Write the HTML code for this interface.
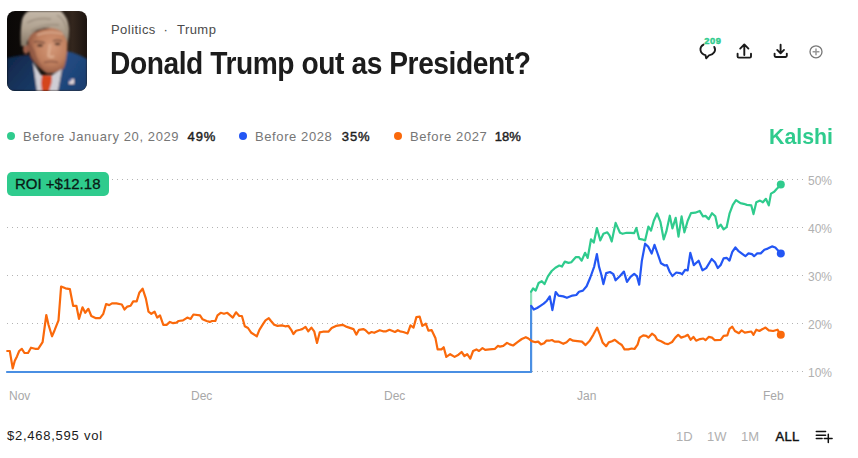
<!DOCTYPE html>
<html><head><meta charset="utf-8">
<style>
html,body{margin:0;padding:0;background:#fff;}
body{width:858px;height:458px;position:relative;overflow:hidden;font-family:"Liberation Sans",sans-serif;}
.abs{position:absolute;white-space:nowrap;}
.crumb{left:111px;top:21.5px;font-size:13px;color:#4a4a4a;letter-spacing:0.45px;}
.title{left:109.5px;top:45px;font-size:31.5px;font-weight:bold;color:#1c1c1c;letter-spacing:-0.5px;transform-origin:0 0;transform:scaleX(0.895);}
.leg{top:129px;font-size:13px;color:#767676;letter-spacing:0.6px;}
.leg b{font-weight:normal;color:#1f1f1f;letter-spacing:0.8px;-webkit-text-stroke:0.45px #1f1f1f;}
.dot{position:absolute;width:8px;height:8px;border-radius:50%;}
.kalshi{left:768.5px;top:124px;font-size:22px;font-weight:bold;color:#2fcb8d;transform-origin:0 0;transform:scaleX(0.97);}
.roi{left:7px;top:172px;width:102px;height:24px;border-radius:5px;background:#2fcb8d;}
.roit{left:15px;top:175px;font-size:15px;color:#0a1a16;-webkit-text-stroke:0.3px #0a1a16;}
.ylab{left:808px;font-size:12px;color:#b0b0b0;letter-spacing:0px;}
.xlab{top:389px;font-size:12px;color:#a8a8a8;}
.vol{left:7px;top:428px;font-size:13px;color:#1a1a1a;letter-spacing:0.75px;}
.rng{top:429px;font-size:13px;color:#b0b0b0;}
</style></head><body>
<svg class="abs" style="left:7px;top:11px" width="80" height="80" viewBox="0 0 80 80">
<defs><clipPath id="rc"><rect width="80" height="80" rx="8"/></clipPath>
<linearGradient id="bg" x1="0" y1="0" x2="1" y2="0"><stop offset="0" stop-color="#0a0807"/><stop offset="0.5" stop-color="#120e0b"/><stop offset="0.82" stop-color="#33261d"/><stop offset="1" stop-color="#1c1410"/></linearGradient>
<radialGradient id="skin" cx="0.6" cy="0.42" r="0.62"><stop offset="0" stop-color="#d49878"/><stop offset="0.6" stop-color="#c0805f"/><stop offset="1" stop-color="#905640"/></radialGradient>
<linearGradient id="hair" x1="0" y1="0" x2="0" y2="1"><stop offset="0" stop-color="#c4b8a9"/><stop offset="0.5" stop-color="#b0a290"/><stop offset="1" stop-color="#857767"/></linearGradient>
<linearGradient id="suitL" x1="0" y1="0" x2="1" y2="1"><stop offset="0" stop-color="#0f2649"/><stop offset="1" stop-color="#1b3c69"/></linearGradient>
<linearGradient id="suitR" x1="0" y1="0" x2="1" y2="1"><stop offset="0" stop-color="#25508a"/><stop offset="1" stop-color="#1a3d6e"/></linearGradient>
<filter id="bl" x="-10%" y="-10%" width="120%" height="120%"><feGaussianBlur stdDeviation="0.9"/></filter></defs>
<g clip-path="url(#rc)">
<rect width="80" height="80" fill="url(#bg)"/>
<g filter="url(#bl)">
<path d="M0 47 Q12 44 22 44 L27 52 L31 80 L0 80 Z" fill="url(#suitL)"/>
<path d="M59 40 Q70 42 80 48 L80 80 L51 80 L55 59 Z" fill="url(#suitR)"/>
<path d="M21 24 Q20 40 25 48 Q31 57 40 62.5 Q50 63 57 57 Q60 48 60.5 32 Q60 20 52 17 Q38 15 21 24 Z" fill="url(#skin)"/>
<path d="M26 51 L34 64 L45 64 L55 58 L51 80 L30 80 Z" fill="#cfcdd4"/>
<path d="M35 64 L45 64.5 L44.5 72 L42 80 L35 80 L34 72 Z" fill="#d4441c"/>
<ellipse cx="19" cy="38" rx="3" ry="5" fill="#9c5e4a"/>
<path d="M22 30 Q22 44 27 50 Q32 56 38 60 Q30 50 28 40 Z" fill="#8a5440" opacity="0.7"/>
<path d="M30 24 Q42 19 56 23" stroke="#d9ab90" stroke-width="2" fill="none" opacity="0.8"/>
<path d="M14 35 Q13 20 15 9 Q17 2 22 0 L54 0 Q61 6 62 18 Q62 26 60.5 32 Q58 25 55 21 Q47 16 38 17 Q28 18 23 25 Q20 29 19.5 35 Z" fill="url(#hair)"/>
<path d="M27 31 Q32 29.5 38 32 M46 30 Q50 28.5 55 30" stroke="#7a5040" stroke-width="1.5" fill="none"/>
<path d="M20 12 Q30 6 44 8 M24 20 Q36 12 52 14 M50 4 Q58 8 60 20" stroke="#8c7e6e" stroke-width="1.3" fill="none" opacity="0.7"/>
<ellipse cx="33" cy="34.5" rx="3" ry="1.2" fill="#4a3028"/>
<ellipse cx="50.5" cy="33" rx="3" ry="1.2" fill="#4a3028"/>
<path d="M43 33 L41.5 45 Q44 47 47 45" stroke="#dcaa8c" stroke-width="2.5" fill="none"/>
<path d="M37 51.5 Q44 49.5 51 51.5" stroke="#8a5542" stroke-width="1.5" fill="none"/>
<rect x="62" y="68" width="5" height="5" fill="#e8dcdc"/>
<rect x="62" y="68" width="2.5" height="2.5" fill="#5060a0"/>
</g>
</g></svg>
<div class="abs crumb">Politics</div><div class="abs crumb" style="left:163.5px">·</div><div class="abs crumb" style="left:177px">Trump</div>
<div class="abs title">Donald Trump out as President?</div>

<svg class="abs" style="left:690px;top:30px" width="140" height="35" viewBox="690 30 140 35">
<path d="M703.5 44.6 A7.25 6 0 0 0 705.5 55.2 L706.2 58.3 L709 55.4 A7.25 6 0 0 0 714.3 46.9" fill="none" stroke="#1a1a1a" stroke-width="1.9" stroke-linejoin="round" stroke-linecap="round"/>
<text x="704.2" y="43.9" font-size="9.3" font-weight="bold" fill="#2fcb8d" stroke="#2fcb8d" stroke-width="0.45" font-family="Liberation Sans" letter-spacing="0.6">209</text>
<path d="M737.6 53.8 V56.4 Q737.6 57.6 738.8 57.6 H749.8 Q751 57.6 751 56.4 V53.8 M744.3 55 V44.6 M740.2 48.6 L744.3 44.4 L748.4 48.6" fill="none" stroke="#1a1a1a" stroke-width="1.9" stroke-linejoin="round" stroke-linecap="round"/>
<path d="M774.6 53.6 V55.8 Q774.6 57 775.8 57 H785.6 Q786.8 57 786.8 55.8 V53.6 M780.6 44.8 V53 M777.2 49.9 L780.6 53.3 L784 49.9" fill="none" stroke="#1a1a1a" stroke-width="1.9" stroke-linejoin="round" stroke-linecap="round"/>
<circle cx="816" cy="51.8" r="6" fill="none" stroke="#777" stroke-width="1.3"/>
<path d="M816 48.4 V55.2 M812.6 51.8 H819.4" stroke="#999" stroke-width="1.5"/>
</svg>

<div class="dot" style="left:7px;top:132px;background:#2fcb8d"></div>
<div class="abs leg" style="left:23px">Before January 20, 2029&nbsp;&nbsp;<b>49%</b></div>
<div class="dot" style="left:239px;top:132px;background:#2356f4"></div>
<div class="abs leg" style="left:255px">Before 2028&nbsp;&nbsp;<b style="margin-left:1px">35%</b></div>
<div class="dot" style="left:394px;top:132px;background:#fa690b"></div>
<div class="abs leg" style="left:410px">Before 2027&nbsp;&nbsp;<b style="letter-spacing:0px;margin-left:-1px">18%</b></div>
<div class="abs kalshi">Kalshi</div>

<svg class="abs" style="left:0;top:170px" width="858" height="220" viewBox="0 170 858 220">
<g stroke="#b4b4b4" stroke-width="1" stroke-dasharray="1 4">
<line x1="7" y1="179.5" x2="803" y2="179.5"/>
<line x1="7" y1="227.5" x2="803" y2="227.5"/>
<line x1="7" y1="275.5" x2="803" y2="275.5"/>
<line x1="7" y1="323.5" x2="803" y2="323.5"/>
<line x1="7" y1="371.5" x2="803" y2="371.5"/>
</g>
<g fill="none" stroke-width="2.2" stroke-linejoin="round" stroke-linecap="round">
<polyline points="7,372 531.1,372 531.1,305.8" stroke="#4a8fe3"/>
<polyline points="531.1,305.8 531.1,291.7" stroke="#8ddfba"/>
<polyline points="7.2,351 9.8,351 12.7,368.4 14.8,360.8 17,356.4 19.2,351 21.8,348.8 24.5,353 28,353 31,347.7 35,348.8 38.2,348.8 42.6,342.2 46.3,315 48.5,324.8 52,336.3 54.6,330.2 58.5,320.4 61.1,286.5 65.5,288.3 69.9,289.2 73.1,305.8 76.4,305.8 79,318.9 82.5,307.3 85.2,312.8 88.4,308.8 91.3,316 96,318.2 100,318.2 103.3,313.8 106.1,304 109.2,305.1 112,303.4 116.4,303.4 121.8,304.5 124.5,309.5 127.3,306.6 130.6,305.8 133.2,301.4 136.7,301.4 139.3,292.7 142.6,288.7 145.9,298.6 148.5,311.7 151.3,313.8 154.6,311.7 157.2,317.6 160,315.4 163.3,324.8 166.6,324.8 169.9,321.9 173.1,323.2 176.4,322.6 178.6,321 183,320.4 187.3,317.6 190.6,318.9 193.4,314.5 200,315.4 202.6,319.3 206.6,321 209.8,321.9 212,321 215.3,321 217.5,315.4 220.7,312.8 224,313.8 227.3,312.8 232.8,317.6 236,312.3 239.3,316 241.9,316 244.8,326.3 248,328 251.3,332.8 256.8,336.3 259.4,329.8 263.3,323.7 265.5,320.4 268.8,318.2 271,321 274.2,324.8 277.5,325.9 281.9,325.4 285.2,326.3 288.4,325.9 291.7,330.7 293.4,334.1 296.1,330.7 300,329.8 302.2,329.1 305.5,326.9 308.3,331.3 311.4,327.6 314.2,331.3 317,342.9 319.7,332.4 322.9,331.7 328.4,331.7 331.7,328 336,325.9 342.6,324.8 346.9,326.9 353.5,329.1 356.3,334.6 359,329.8 363.3,329.1 365.5,330.2 368.8,333.5 371.6,332 374.2,332.8 379.7,330.2 383,331.3 386.2,331.3 389.5,329.8 395,332 397.8,330.2 400,331.3 403.3,332 407.6,333.5 410.5,325.4 413.5,327.6 416.4,317.1 419.7,316.7 422.3,325.9 425.8,323.7 428.4,330.7 431.7,330.2 435.4,337.9 437.6,349.4 441.5,349.4 443.7,347.2 446.3,356.9 450.2,354.2 454.6,356.9 458.5,354.7 461.6,352 464.4,356 467.2,354.2 470.3,358.6 473.1,351 476.4,349.4 479,351 482.5,348.1 485.2,349.9 489.5,349.4 495,348.8 497.8,345.9 500,346.6 503.3,345.9 507,342.9 509.8,344.4 513.1,345.5 517.5,342.2 521.8,339 525.8,337.2 528.4,338.5 531.7,341.1 535.4,342.2 538.2,341.6 541,344.4 544.1,343.3 546.3,340.7 549.1,340.7 552,340 554.6,341.6 558.5,341.6 563.3,343.8 566.6,342.2 569.9,339 573.1,340.7 577.5,341.1 581.9,341.6 585.6,345.1 589.5,341.1 593.4,334.6 597.2,327.6 600,334.8 602.6,342.4 606.1,346.3 608.7,342.4 612,341.3 614.8,339.8 618.6,342.8 621.8,345 624.5,349.4 628.4,349.4 631.7,348.5 634.5,349 637.6,344.6 639.7,337.6 643.2,335.4 646.3,335.9 648.5,337.6 652,333.7 655,335.9 657.2,339.8 661.1,341.3 665.1,343.5 668.1,344.1 672.1,342 675.3,337.6 678.2,334.8 681.2,337.6 685.2,336.3 687.8,334.8 690.6,339.8 693.4,336.9 696.1,340.7 700,339.1 703.3,338.5 705.5,340.2 708.7,336.9 712,337.6 714.8,340.2 720.7,339.8 723.6,335.9 727.3,335.4 729.5,328.9 732.3,326.7 734.9,331 738.9,333.2 741.5,330.4 744.8,332.6 751.3,331.5 753.5,334.8 756.3,329.7 759.4,331 762.2,329.3 765.5,327.6 768.8,330.4 773.1,331 777.5,329.7 780.8,334.8" stroke="#fa690b"/>
<polyline points="531.1,305.8 533.8,309.5 537.1,308 540.4,305.8 543.7,303.6 546.9,300.7 549.8,296.4 552.4,310.1 555.7,292 558.5,295.7 563.3,296.4 566.9,297.8 572.4,295.6 576.3,295 579,291.7 582.9,290.6 586.6,286.2 590.3,277.5 594.2,266.6 596.9,254.1 599,266.6 601.2,274.2 603.4,284.1 606.2,273.1 610,272 613.4,274.2 615.6,280.3 620,276 623.9,271.6 627,281.9 630.5,276.9 634.2,273.8 637,276.4 639.2,284.7 641.8,261.1 645.1,243.7 648.4,246.9 651.7,253.5 654.5,244.8 657.6,253.5 661,263.3 664.8,265.5 666.9,265.1 669.8,272 672.4,276 676.3,272.5 680,273.1 682.2,274.2 685.1,269.9 687.7,270.3 690.3,252.8 693.8,265.1 698.6,260.7 702.5,270.3 706.2,268.1 711.7,259 715,262.2 717.8,268.1 720.7,265 723.6,258.4 726.6,257.8 729.5,260.6 732.3,251.9 735.4,247.5 738.2,250.8 742.6,254.1 745.4,256.2 748.5,253.4 752,254.1 754.1,256.2 757.2,253.4 760.7,253.4 764.4,249.7 767.7,248.6 772,246.4 775.3,247.5 780.8,253.4" stroke="#2356f4"/>
<polyline points="531.1,291.7 533.1,288.4 535.7,290.6 538.6,283 541.8,281.2 544.5,284.1 547.9,276.4 551.7,271 555.4,267.7 559.3,265.5 561.9,266.6 564.8,261.6 568.5,262.9 571.3,262.2 575.7,257.2 579,257.2 581.6,260.7 585.1,252.8 587.7,257.9 591,239.3 593.8,242.6 596.9,228 600.3,240.4 603.4,233.8 607.3,232.3 609.5,235.4 611.7,241.5 615.6,222.9 620,232.8 622.6,233.8 626.6,232.8 630.9,232.8 634.2,233.2 636.4,227.9 639.2,238.9 641.8,239.3 645.1,240.4 648.4,226.6 651,230.6 653.8,220.7 657.1,213.5 660.4,221.8 663.7,239.3 666.3,231.7 669.8,215.7 672.4,228.4 675.7,217.9 678.5,236.7 681.6,216.4 684.4,232.3 687.7,220.7 691,213.1 695.3,212.7 699.7,210.9 703,216.4 705.5,215.9 708.7,219.1 712,213.2 715.3,216.3 717.9,227.9 720.7,224.6 723.6,229.4 726.6,227.2 729.5,213.7 732.8,204.9 736,200.1 740.4,203.2 743.7,203.8 746.9,204.9 751.3,205.4 753.5,214.1 756.3,202.3 760,200.6 762.9,202.3 765.9,198.8 768.8,205.4 771,193.6 774.2,191.8 776.4,189.2 780.8,184.8" stroke="#2fcb8d"/>
</g>
<circle cx="780.8" cy="184.6" r="4" fill="#2fcb8d"/>
<circle cx="780.8" cy="253.4" r="4" fill="#2356f4"/>
<circle cx="780.8" cy="334.8" r="4" fill="#fa690b"/>
</svg>
<div class="abs roi"></div>
<div class="abs roit">ROI +$12.18</div>
<div class="abs ylab" style="top:174px">50%</div>
<div class="abs ylab" style="top:222px">40%</div>
<div class="abs ylab" style="top:270px">30%</div>
<div class="abs ylab" style="top:318px">20%</div>
<div class="abs ylab" style="top:366px">10%</div>
<div class="abs xlab" style="left:9px">Nov</div>
<div class="abs xlab" style="left:191px">Dec</div>
<div class="abs xlab" style="left:384px">Dec</div>
<div class="abs xlab" style="left:577px">Jan</div>
<div class="abs xlab" style="left:763px">Feb</div>
<div class="abs vol">$2,468,595 vol</div>
<div class="abs rng" style="left:676px">1D</div>
<div class="abs rng" style="left:707px">1W</div>
<div class="abs rng" style="left:741px">1M</div>
<div class="abs rng" style="left:775.5px;color:#111;-webkit-text-stroke:0.45px #111;letter-spacing:0.3px">ALL</div>
<svg class="abs" style="left:814px;top:428px" width="20" height="16" viewBox="0 0 20 16">
<path d="M2.3 3.6 H11.6 M2.3 7.2 H11.6 M2.3 10.5 H8.1 M10.3 10.5 H18.1 M14.3 6.3 V14.6" stroke="#111" stroke-width="1.5" stroke-linecap="round" fill="none"/>
</svg>
</body></html>
